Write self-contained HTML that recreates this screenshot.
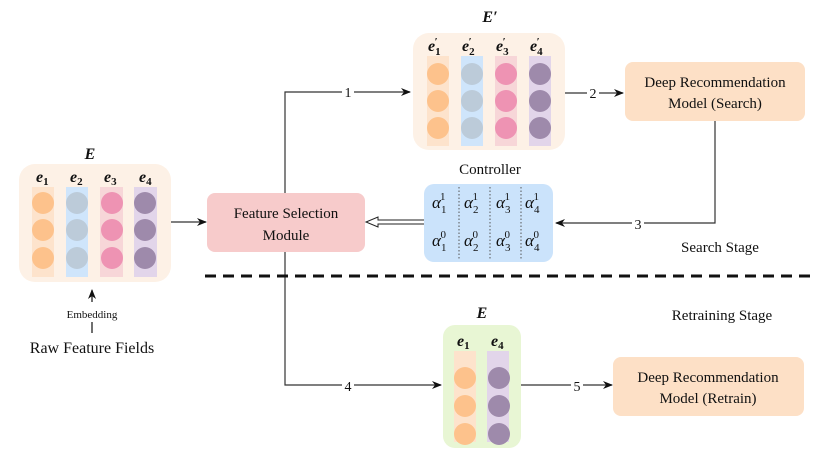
<!DOCTYPE html>
<html><head><meta charset="utf-8"><style>
html,body{margin:0;padding:0;background:#fff}
svg{display:block}
text{font-family:"Liberation Serif",serif;fill:#111}
.b{font-weight:bold;font-style:italic}
</style></head><body>
<svg width="832" height="454" viewBox="0 0 832 454" xmlns="http://www.w3.org/2000/svg">
<defs>
<marker id="ar" markerWidth="10" markerHeight="8" refX="9" refY="4" orient="auto" markerUnits="userSpaceOnUse">
<path d="M0,0 L10,4 L0,8 L3,4 Z" fill="#111"/></marker>
</defs>

<!-- Left E -->
<text x="90" y="159" font-size="16" class="b" text-anchor="middle">E</text>
<rect x="19" y="164" width="152" height="118" rx="16" fill="#fdf1e6"/>
<rect x="32" y="187" width="22" height="90" fill="#fde3cc"/>
<rect x="66" y="187" width="22" height="90" fill="#cfe5fb"/>
<rect x="100" y="187" width="23" height="90" fill="#f7d6d8"/>
<rect x="134" y="187" width="23" height="90" fill="#e2d5ea"/>
<g fill="#fdc28c"><circle cx="43" cy="203" r="11"/><circle cx="43" cy="230" r="11"/><circle cx="43" cy="258" r="11"/></g>
<g fill="#bccbd9"><circle cx="77" cy="203" r="11"/><circle cx="77" cy="230" r="11"/><circle cx="77" cy="258" r="11"/></g>
<g fill="#ee93b3"><circle cx="112" cy="203" r="11"/><circle cx="112" cy="230" r="11"/><circle cx="112" cy="258" r="11"/></g>
<g fill="#9e8aab"><circle cx="145" cy="203" r="11"/><circle cx="145" cy="230" r="11"/><circle cx="145" cy="258" r="11"/></g>
<g font-size="16" class="b">
<text x="36" y="182">e<tspan font-size="11" dy="3" font-style="normal">1</tspan></text>
<text x="70" y="182">e<tspan font-size="11" dy="3" font-style="normal">2</tspan></text>
<text x="104" y="182">e<tspan font-size="11" dy="3" font-style="normal">3</tspan></text>
<text x="139" y="182">e<tspan font-size="11" dy="3" font-style="normal">4</tspan></text>
</g>

<!-- embedding -->
<line x1="92" y1="302" x2="92" y2="290" stroke="#111" stroke-width="1.2" marker-end="url(#ar)"/>
<text x="92" y="318" font-size="11" text-anchor="middle">Embedding</text>
<line x1="92" y1="322" x2="92" y2="333" stroke="#111" stroke-width="1.2"/>
<text x="92" y="353" font-size="16" text-anchor="middle">Raw Feature Fields</text>

<!-- arrow E -> FSM -->
<line x1="171" y1="222" x2="206" y2="222" stroke="#333" stroke-width="1.2" marker-end="url(#ar)"/>

<!-- FSM -->
<rect x="207" y="193" width="158" height="59" rx="8" fill="#f7cbcb"/>
<text x="286" y="218" font-size="15" text-anchor="middle">Feature Selection</text>
<text x="286" y="240" font-size="15" text-anchor="middle">Module</text>

<!-- connectors 1 and 4 -->
<polyline points="285,193 285,92 410,92" fill="none" stroke="#333" stroke-width="1.2" marker-end="url(#ar)"/>
<rect x="342" y="85" width="12" height="14" fill="#fff"/>
<text x="348" y="97" font-size="14" text-anchor="middle">1</text>
<polyline points="285,252 285,385 441,385" fill="none" stroke="#333" stroke-width="1.2" marker-end="url(#ar)"/>
<rect x="342" y="378" width="12" height="14" fill="#fff"/>
<text x="348" y="391" font-size="14" text-anchor="middle">4</text>

<!-- dashed -->
<line x1="205" y1="276" x2="812" y2="276" stroke="#111" stroke-width="3" stroke-dasharray="11,7"/>

<!-- E' -->
<text x="490" y="22" font-size="16" class="b" text-anchor="middle">E′</text>
<rect x="413" y="33" width="152" height="117" rx="16" fill="#fdf1e6"/>
<rect x="427" y="56" width="22" height="90" fill="#fde3cc"/>
<rect x="461" y="56" width="22" height="90" fill="#cfe5fb"/>
<rect x="495" y="56" width="22" height="90" fill="#f7d6d8"/>
<rect x="529" y="56" width="22" height="90" fill="#e2d5ea"/>
<g fill="#fdc28c"><circle cx="438" cy="74" r="11"/><circle cx="438" cy="101" r="11"/><circle cx="438" cy="128" r="11"/></g>
<g fill="#bccbd9"><circle cx="472" cy="74" r="11"/><circle cx="472" cy="101" r="11"/><circle cx="472" cy="128" r="11"/></g>
<g fill="#ee93b3"><circle cx="506" cy="74" r="11"/><circle cx="506" cy="101" r="11"/><circle cx="506" cy="128" r="11"/></g>
<g fill="#9e8aab"><circle cx="540" cy="74" r="11"/><circle cx="540" cy="101" r="11"/><circle cx="540" cy="128" r="11"/></g>
<g font-size="16" class="b">
<text x="428" y="51">e<tspan font-size="11" dy="4" font-style="normal">1</tspan><tspan font-size="11" dx="-6" dy="-10" font-style="normal">′</tspan></text>
<text x="462" y="51">e<tspan font-size="11" dy="4" font-style="normal">2</tspan><tspan font-size="11" dx="-6" dy="-10" font-style="normal">′</tspan></text>
<text x="496" y="51">e<tspan font-size="11" dy="4" font-style="normal">3</tspan><tspan font-size="11" dx="-6" dy="-10" font-style="normal">′</tspan></text>
<text x="530" y="51">e<tspan font-size="11" dy="4" font-style="normal">4</tspan><tspan font-size="11" dx="-6" dy="-10" font-style="normal">′</tspan></text>
</g>

<!-- arrow 2 -->
<line x1="565" y1="93" x2="623" y2="93" stroke="#333" stroke-width="1.2" marker-end="url(#ar)"/>
<rect x="587" y="86" width="12" height="14" fill="#fff"/>
<text x="593" y="98" font-size="14" text-anchor="middle">2</text>

<!-- DRM search -->
<rect x="625" y="62" width="180" height="59" rx="8" fill="#fde0c6"/>
<text x="715" y="87" font-size="15" text-anchor="middle">Deep Recommendation</text>
<text x="715" y="108" font-size="15" text-anchor="middle">Model (Search)</text>

<!-- arrow 3 -->
<polyline points="715,121 715,223 556,223" fill="none" stroke="#333" stroke-width="1.2" marker-end="url(#ar)"/>
<rect x="632" y="216" width="12" height="14" fill="#fff"/>
<text x="638" y="229" font-size="14" text-anchor="middle">3</text>

<!-- controller -->
<text x="490" y="174" font-size="15" text-anchor="middle">Controller</text>
<rect x="424" y="184" width="129" height="78" rx="10" fill="#cbe3fb"/>
<g stroke="#555" stroke-width="1" stroke-dasharray="1.5,2">
<line x1="459" y1="187" x2="459" y2="259"/><line x1="490" y1="187" x2="490" y2="259"/><line x1="521" y1="187" x2="521" y2="259"/>
</g>
<g font-size="17" font-style="italic">
<text x="432" y="208">α<tspan font-size="11" font-style="normal" dy="5">1</tspan><tspan font-size="11" font-style="normal" dx="-6" dy="-13">1</tspan></text>
<text x="464" y="208">α<tspan font-size="11" font-style="normal" dy="5">2</tspan><tspan font-size="11" font-style="normal" dx="-6" dy="-13">1</tspan></text>
<text x="496" y="208">α<tspan font-size="11" font-style="normal" dy="5">3</tspan><tspan font-size="11" font-style="normal" dx="-6" dy="-13">1</tspan></text>
<text x="525" y="208">α<tspan font-size="11" font-style="normal" dy="5">4</tspan><tspan font-size="11" font-style="normal" dx="-6" dy="-13">1</tspan></text>
<text x="432" y="246">α<tspan font-size="11" font-style="normal" dy="5">1</tspan><tspan font-size="11" font-style="normal" dx="-6" dy="-13">0</tspan></text>
<text x="464" y="246">α<tspan font-size="11" font-style="normal" dy="5">2</tspan><tspan font-size="11" font-style="normal" dx="-6" dy="-13">0</tspan></text>
<text x="496" y="246">α<tspan font-size="11" font-style="normal" dy="5">3</tspan><tspan font-size="11" font-style="normal" dx="-6" dy="-13">0</tspan></text>
<text x="525" y="246">α<tspan font-size="11" font-style="normal" dy="5">4</tspan><tspan font-size="11" font-style="normal" dx="-6" dy="-13">0</tspan></text>
</g>

<!-- hollow double arrow -->
<path d="M424,220 L378,220 L378,217 L366,222 L378,227 L378,224 L424,224" fill="#fff" stroke="#222" stroke-width="1"/>

<text x="720" y="252" font-size="15" text-anchor="middle">Search Stage</text>
<text x="722" y="320" font-size="15" text-anchor="middle">Retraining Stage</text>

<!-- bottom E -->
<text x="482" y="318" font-size="16" class="b" text-anchor="middle">E</text>
<rect x="443" y="325" width="78" height="123" rx="12" fill="#e8f6d4"/>
<rect x="454" y="351" width="22" height="91" fill="#fde3cc"/>
<rect x="487" y="351" width="22" height="91" fill="#e2d5ea"/>
<g fill="#fdc28c"><circle cx="465" cy="378" r="11"/><circle cx="465" cy="406" r="11"/><circle cx="465" cy="434" r="11"/></g>
<g fill="#9e8aab"><circle cx="499" cy="378" r="11"/><circle cx="499" cy="406" r="11"/><circle cx="499" cy="434" r="11"/></g>
<g font-size="16" class="b">
<text x="457" y="346">e<tspan font-size="11" dy="3" font-style="normal">1</tspan></text>
<text x="491" y="346">e<tspan font-size="11" dy="3" font-style="normal">4</tspan></text>
</g>

<!-- arrow 5 -->
<line x1="521" y1="385" x2="612" y2="385" stroke="#333" stroke-width="1.2" marker-end="url(#ar)"/>
<rect x="571" y="378" width="12" height="14" fill="#fff"/>
<text x="577" y="391" font-size="14" text-anchor="middle">5</text>

<rect x="613" y="357" width="191" height="59" rx="8" fill="#fde0c6"/>
<text x="708" y="382" font-size="15" text-anchor="middle">Deep Recommendation</text>
<text x="708" y="403" font-size="15" text-anchor="middle">Model (Retrain)</text>
</svg>
</body></html>
